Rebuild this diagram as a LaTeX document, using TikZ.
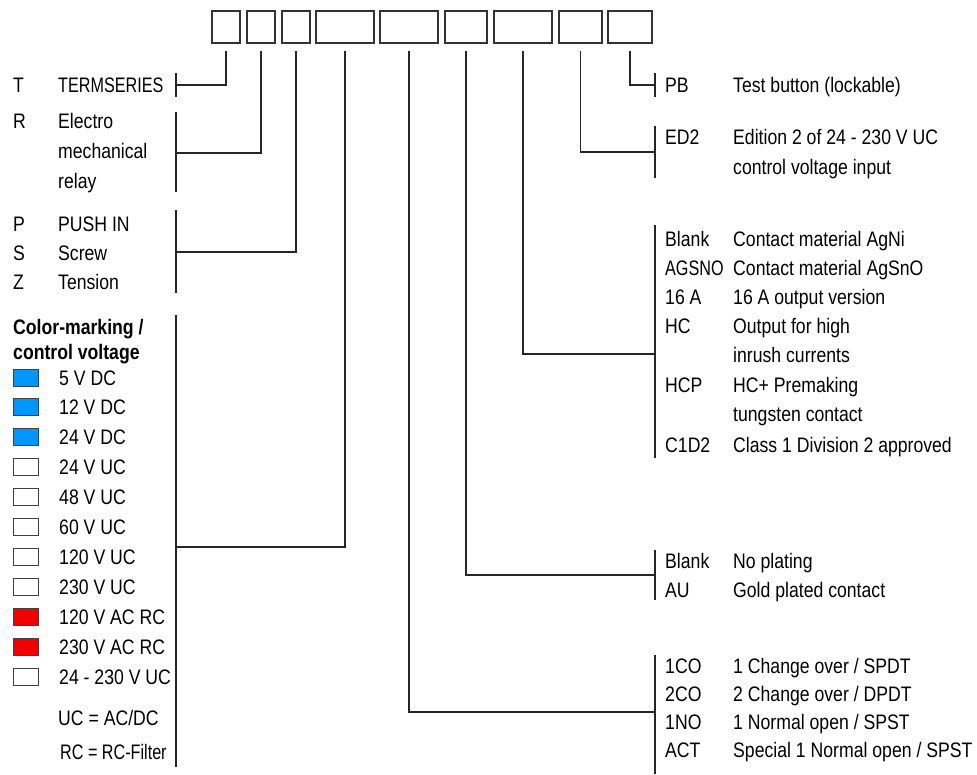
\documentclass[tikz,border=0pt]{standalone}
\usepackage{fontspec}
\setmainfont{Liberation Sans}[FakeStretch=0.84]
\newfontfamily\capsfont{Liberation Sans}[FakeStretch=0.77]
\usetikzlibrary{calc}
\definecolor{ledblue}{RGB}{0,150,255}
\definecolor{ledred}{RGB}{240,0,0}
\begin{document}
\begin{tikzpicture}[x=1pt,y=-1pt,
  box/.style={draw=black!80,line width=1.8pt,inner sep=0pt,outer sep=0pt,minimum height=32pt},
  conn/.style={draw=black!85,line width=1.1pt},
  lbl/.style={anchor=base west,inner sep=0pt,font=\fontsize{21}{25}\selectfont,text=black},
  head/.style={anchor=base west,inner sep=0pt,font=\fontsize{21}{25}\selectfont\bfseries,text=black},
  swatch/.style={draw=black!75,line width=1pt,minimum width=25pt,minimum height=17pt,inner sep=0pt,anchor=west}]
\useasboundingbox (0,0) rectangle (977,774);

% code boxes
\node[box,minimum width=28pt] (b1) at (226,27) {};
\node[box,minimum width=28pt] (b2) at (261,27) {};
\node[box,minimum width=28pt] (b3) at (296,27) {};
\node[box,minimum width=58pt] (b4) at (345,27) {};
\node[box,minimum width=58pt] (b5) at (409,27) {};
\node[box,minimum width=42pt] (b6) at (466,27) {};
\node[box,minimum width=58pt] (b7) at (523,27) {};
\node[box,minimum width=43pt] (b8) at (580.5,27) {};
\node[box,minimum width=44pt] (b9) at (630,27) {};

% join points
\coordinate (jT) at (176,85);
\coordinate (jR) at (176,153);
\coordinate (jP) at (176,252);
\coordinate (jC) at (176,547);
\coordinate (jPB) at (655,85);
\coordinate (jED) at (655,152);
\coordinate (jMat) at (655,354);
\coordinate (jAu) at (655,575);
\coordinate (jCo) at (655,712);

% connectors
\draw[conn] ($(b1.south)+(0,8)$) |- (jT);
\draw[conn] ($(b2.south)+(0,8)$) |- (jR);
\draw[conn] ($(b3.south)+(0,8)$) |- (jP);
\draw[conn] ($(b4.south)+(0,8)$) |- (jC);
\draw[conn] ($(b5.south)+(0,8)$) |- (jCo);
\draw[conn] ($(b6.south)+(0,8)$) |- (jAu);
\draw[conn] ($(b7.south)+(0,8)$) |- (jMat);
\draw[conn] ($(b8.south)+(0,8)$) |- (jED);
\draw[conn] ($(b9.south)+(0,8)$) |- (jPB);

% ticks
\draw[conn] (176,73) -- (176,97);
\draw[conn] (176,112) -- (176,192);
\draw[conn] (176,210) -- (176,293);
\draw[conn] (176,315) -- (176,767);
\draw[conn] (655,73) -- (655,97);
\draw[conn] (655,126) -- (655,178);
\draw[conn] (655,225) -- (655,458);
\draw[conn] (655,550) -- (655,600);
\draw[conn] (655,655) -- (655,774);

% left texts
\node[lbl] (cT) at (13,92) {T};
\node[lbl] (dT) at (58,92) {\capsfont TERMSERIES};
\node[lbl] (cR) at (13,128) {R};
\node[lbl] (dR1) at (58,128) {Electro};
\node[lbl] (dR2) at (58,158) {mechanical};
\node[lbl] (dR3) at (58,188) {relay};
\node[lbl] (cP) at (13,231) {P};
\node[lbl] (dP) at (58,231) {PUSH IN};
\node[lbl] (cS) at (13,260) {S};
\node[lbl] (dS) at (58,260) {Screw};
\node[lbl] (cZ) at (13,289) {Z};
\node[lbl] (dZ) at (58,289) {Tension};
\node[head] (h1) at (13,334) {Color-marking /};
\node[head] (h2) at (13,359) {control voltage};
\foreach \i/\y/\c/\t in {1/378/ledblue/5 V DC,2/407/ledblue/12 V DC,3/437/ledblue/24 V DC,
  4/467/white/24 V UC,5/497/white/48 V UC,6/527/white/60 V UC,7/557/white/120 V UC,
  8/587/white/230 V UC,9/617/ledred/120 V AC RC,10/647/ledred/230 V AC RC,11/677/white/24 - 230 V UC}{
  \node[swatch,fill=\c] (sw\i) at (13,\y) {};
  \node[lbl] (sv\i) at (59,\y+7) {\t};
}
\node[lbl] (uc) at (58,725) {UC = AC/DC};
\node[lbl] (rc) at (60,759) {\capsfont RC = RC-Filter};

% right texts
\node[lbl] (cPB) at (665,92) {PB};
\node[lbl] (dPB) at (733,92) {Test button (lockable)};
\node[lbl] (cED) at (665,144) {ED2};
\node[lbl] (dED1) at (733,144) {Edition 2 of 24 - 230 V UC};
\node[lbl] (dED2) at (733,174) {control voltage input};
\node[lbl] (cM1) at (665,246) {Blank};
\node[lbl] (dM1) at (733,246) {Contact material AgNi};
\node[lbl] (cM2) at (665,275) {\capsfont AGSNO};
\node[lbl] (dM2) at (733,275) {Contact material AgSnO};
\node[lbl] (cM3) at (665,304) {16 A};
\node[lbl] (dM3) at (733,304) {16 A output version};
\node[lbl] (cM4) at (665,333) {HC};
\node[lbl] (dM4a) at (733,333) {Output for high};
\node[lbl] (dM4b) at (733,362) {inrush currents};
\node[lbl] (cM5) at (665,392) {HCP};
\node[lbl] (dM5a) at (733,392) {HC+ Premaking};
\node[lbl] (dM5b) at (733,421) {tungsten contact};
\node[lbl] (cM6) at (665,452) {C1D2};
\node[lbl] (dM6) at (733,452) {Class 1 Division 2 approved};
\node[lbl] (cA1) at (665,568) {Blank};
\node[lbl] (dA1) at (733,568) {No plating};
\node[lbl] (cA2) at (665,597) {AU};
\node[lbl] (dA2) at (733,597) {Gold plated contact};
\node[lbl] (cC1) at (665,673) {1CO};
\node[lbl] (dC1) at (733,673) {1 Change over / SPDT};
\node[lbl] (cC2) at (665,701) {2CO};
\node[lbl] (dC2) at (733,701) {2 Change over / DPDT};
\node[lbl] (cC3) at (665,729) {1NO};
\node[lbl] (dC3) at (733,729) {1 Normal open / SPST};
\node[lbl] (cC4) at (665,757) {ACT};
\node[lbl] (dC4) at (733,757) {Special 1 Normal open / SPST};
\end{tikzpicture}
\end{document}
